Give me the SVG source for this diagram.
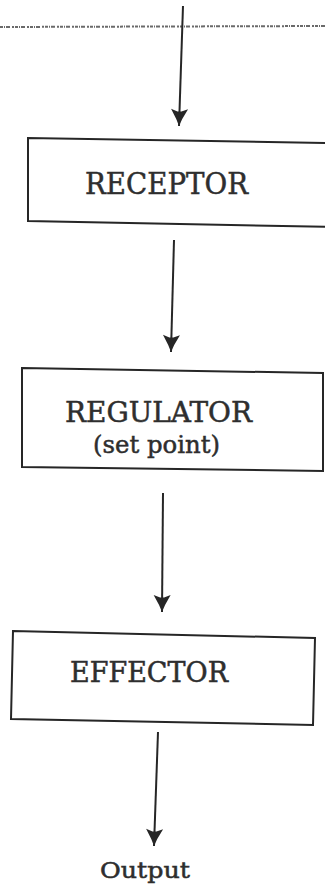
<svg xmlns="http://www.w3.org/2000/svg" width="325" height="888" viewBox="0 0 325 888">
<defs>
<style>
.box{fill:none;stroke:#262626;stroke-width:2;stroke-linejoin:miter}
.lbl{font-family:"DejaVu Serif","Liberation Serif",serif;fill:#2e2e2e;stroke:#2e2e2e;stroke-width:0.5;text-anchor:middle}
.conn line{stroke:#262626;stroke-width:2}
.dots{stroke:#6a6a6a;stroke-width:2;stroke-dasharray:3 1 1 1 4 2 2 1;fill:none}
</style>
<marker id="ah" viewBox="-20 -10 22 20" refX="0" refY="0" markerWidth="22" markerHeight="20" markerUnits="userSpaceOnUse" orient="auto">
<path d="M0,0 L-7,-3 L-17,-8.5 L-14.5,-2 L-14.5,2 L-17,8.5 L-7,3 Z" fill="#262626"/>
</marker>
</defs>
<rect width="325" height="888" fill="#ffffff"/>
<path class="dots" d="M0,27 L325,26"/>
<g id="conn" class="conn">
<line x1="183" y1="6" x2="179" y2="126" marker-end="url(#ah)"/>
<line x1="174" y1="240" x2="171" y2="352" marker-end="url(#ah)"/>
<line x1="163" y1="493" x2="162" y2="612" marker-end="url(#ah)"/>
<line x1="158" y1="732" x2="154" y2="846" marker-end="url(#ah)"/>
</g>
<g id="receptor">
<path class="box" d="M332,143 L28,138 L28,221 L332,227"/>
<text class="lbl" x="166.5" y="194" font-size="30" textLength="163" lengthAdjust="spacingAndGlyphs">RECEPTOR</text>
</g>
<g id="regulator">
<polygon class="box" points="22,368 323,373 323,471 22,467"/>
<text class="lbl" x="158.5" y="422" font-size="28" textLength="187" lengthAdjust="spacingAndGlyphs">REGULATOR</text>
<text class="lbl" x="156.5" y="453" font-size="25" textLength="127" lengthAdjust="spacingAndGlyphs">(set point)</text>
</g>
<g id="effector">
<polygon class="box" points="13,631 315,638 313,725 11,719"/>
<text class="lbl" x="149" y="682" font-size="27" textLength="158" lengthAdjust="spacingAndGlyphs">EFFECTOR</text>
</g>
<g id="output">
<text class="lbl" x="145" y="878" font-size="22" textLength="90" lengthAdjust="spacingAndGlyphs">Output</text>
</g>
</svg>
